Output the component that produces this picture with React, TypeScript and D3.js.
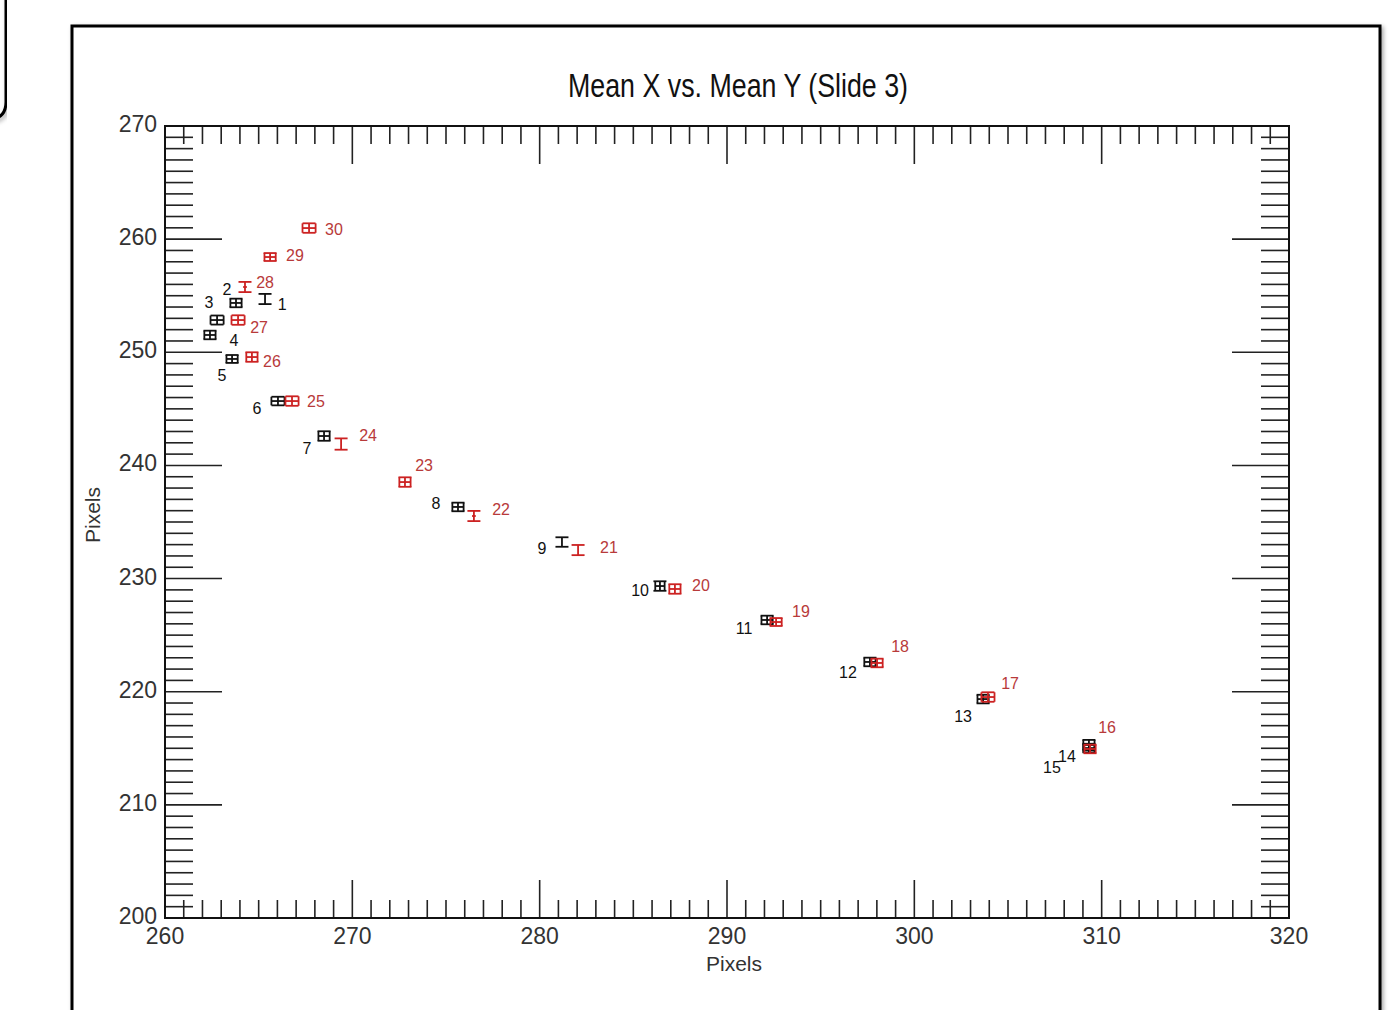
import React from "react";
import * as d3 from "d3";

// ---- Data ----
const blackIds = [1, 2, 3, 4, 5, 6, 7, 8, 9, 10, 11, 12, 13, 14, 15];
const blackX = [265.34, 263.79, 262.78, 262.4, 263.58, 266.03, 268.49, 275.64, 281.19, 286.42, 292.14, 297.63, 303.67, 309.32, 309.32];
const blackY = [254.71, 254.36, 252.85, 251.53, 249.41, 245.69, 242.6, 236.33, 233.23, 229.34, 226.34, 222.63, 219.35, 215.29, 215.02];
const blackXErr = [0, 0.3, 0.35, 0.3, 0.3, 0.35, 0.3, 0.3, 0, 0.25, 0.3, 0.3, 0.3, 0.3, 0.3];
const blackYErr = [0.45, 0.38, 0.4, 0.38, 0.35, 0.38, 0.42, 0.38, 0.42, 0.42, 0.38, 0.38, 0.38, 0.45, 0.38];
const blackLabelX = [266.25, 263.31, 262.35, 263.68, 263.04, 264.91, 267.58, 274.47, 280.12, 285.36, 290.91, 296.46, 302.6, 308.15, 307.35];
const blackLabelY = [254.27, 255.59, 254.44, 251.09, 247.99, 245.08, 241.54, 236.68, 232.7, 228.99, 225.63, 221.74, 217.85, 214.32, 213.35];

const redIds = [16, 17, 18, 19, 20, 21, 22, 23, 24, 25, 26, 27, 28, 29, 30];
const redX = [309.38, 303.93, 298.01, 292.62, 287.22, 282.05, 276.49, 272.81, 269.4, 266.78, 264.64, 263.9, 264.27, 265.61, 267.69];
const redY = [214.94, 219.53, 222.54, 226.16, 229.08, 232.52, 235.53, 238.53, 241.89, 245.69, 249.58, 252.85, 255.77, 258.42, 260.98];
const redXErr = [0.3, 0.35, 0.3, 0.3, 0.3, 0, 0.1, 0.3, 0, 0.35, 0.3, 0.35, 0.1, 0.3, 0.35];
const redYErr = [0.38, 0.42, 0.38, 0.35, 0.42, 0.45, 0.45, 0.42, 0.5, 0.42, 0.42, 0.42, 0.45, 0.35, 0.42];
const redLabelX = [310.29, 305.11, 299.24, 293.95, 288.61, 283.7, 277.94, 273.83, 270.84, 268.06, 265.71, 265.02, 265.34, 266.94, 269.02];
const redLabelY = [216.88, 220.77, 224.04, 227.13, 229.43, 232.79, 236.15, 240.04, 242.69, 245.69, 249.23, 252.23, 256.21, 258.6, 260.9];

const xMajorTicks = [260, 270, 280, 290, 300, 310, 320];
const yMajorTicks = [200, 210, 220, 230, 240, 250, 260, 270];

const title = "Mean X vs. Mean Y (Slide 3)";
const xTitle = "Pixels";
const yTitle = "Pixels";

// ---- Layout ----
const W = 1394;
const H = 1010;
const L = 165, R = 1289, T = 126, B = 918;
const FONT = "'Liberation Sans Narrow', 'Liberation Sans', Arial, sans-serif";
const RED = "#cc2222";
const RED_LABEL = "#b83a3a";

type Pt = { id: number; x: number; y: number; ex: number; ey: number; lx: number; ly: number };

function build(ids: number[], xs: number[], ys: number[], exs: number[], eys: number[], lxs: number[], lys: number[]): Pt[] {
  return ids.map((id, i) => ({ id, x: xs[i], y: ys[i], ex: exs[i], ey: eys[i], lx: lxs[i], ly: lys[i] }));
}

const blackPts = build(blackIds, blackX, blackY, blackXErr, blackYErr, blackLabelX, blackLabelY);
const redPts = build(redIds, redX, redY, redXErr, redYErr, redLabelX, redLabelY);

export default function App() {
  const x = d3.scaleLinear().domain([260, 320]).range([L, R]);
  const y = d3.scaleLinear().domain([200, 270]).range([B, T]);
  const xMinor = d3.range(260, 321, 1);
  const yMinor = d3.range(200, 271, 1);

  const marker = (p: Pt, color: string, key: string) => {
    const cx = x(p.x);
    const cy = y(p.y);
    const y0 = y(p.y + p.ey);
    const y1 = y(p.y - p.ey);
    const cap = 6.5;
    const els: React.ReactNode[] = [
      <line key="v" x1={cx} x2={cx} y1={y0} y2={y1} />,
      <line key="t" x1={cx - cap} x2={cx + cap} y1={y0} y2={y0} />,
      <line key="b" x1={cx - cap} x2={cx + cap} y1={y1} y2={y1} />,
    ];
    if (p.ex > 0) {
      const x0 = x(p.x - p.ex);
      const x1 = x(p.x + p.ex);
      els.push(<line key="h" x1={x0} x2={x1} y1={cy} y2={cy} />);
      if (p.ex >= 0.2) {
        els.push(<line key="l" x1={x0} x2={x0} y1={y0} y2={y1} />);
        els.push(<line key="r" x1={x1} x2={x1} y1={y0} y2={y1} />);
      }
    }
    return (
      <g key={key} stroke={color} strokeWidth={1.8}>
        {els}
      </g>
    );
  };

  return (
    <svg width={W} height={H} style={{ position: "absolute", left: 0, top: 0, display: "block", background: "#fff" }}>
      <defs>
        <filter id="sh" x="-5%" y="-5%" width="110%" height="110%">
          <feDropShadow dx="2" dy="2" stdDeviation="2" floodColor="#000" floodOpacity="0.35" />
        </filter>
      </defs>
      {/* corner of neighbouring box */}
      <path d="M6,-10 L6,102 Q6,118 -10,120" fill="none" stroke="#000" strokeWidth={3} filter="url(#sh)" />
      {/* outer frame */}
      <rect x={72} y={26} width={1308} height={1010} fill="#fff" stroke="#000" strokeWidth={3} filter="url(#sh)" />

      {/* title */}
      <text x={738} y={97} textAnchor="middle" fontFamily={FONT} fontSize={33} fill="#111" textLength={340} lengthAdjust="spacingAndGlyphs">
        {title}
      </text>

      {/* ticks */}
      <g stroke="#222" strokeWidth={1.6}>
        {xMinor.map((v) => {
          const major = v % 10 === 0;
          const len = major ? 38 : 18;
          return (
            <g key={"xt" + v}>
              <line x1={x(v)} x2={x(v)} y1={B} y2={B - len} />
              <line x1={x(v)} x2={x(v)} y1={T} y2={T + len} />
            </g>
          );
        })}
        {yMinor.map((v) => {
          const major = v % 10 === 0;
          const len = major ? 57 : 28;
          return (
            <g key={"yt" + v}>
              <line x1={L} x2={L + len} y1={y(v)} y2={y(v)} />
              <line x1={R} x2={R - len} y1={y(v)} y2={y(v)} />
            </g>
          );
        })}
      </g>
      {/* plot box */}
      <rect x={L} y={T} width={R - L} height={B - T} fill="none" stroke="#111" strokeWidth={2} />

      {/* tick labels */}
      <g fontFamily={FONT} fontSize={23} fill="#333">
        {xMajorTicks.map((v) => (
          <text key={"xl" + v} x={x(v)} y={B + 26} textAnchor="middle">
            {v}
          </text>
        ))}
        {yMajorTicks.map((v) => (
          <text key={"yl" + v} x={L - 8} y={y(v) + 6} textAnchor="end">
            {v}
          </text>
        ))}
      </g>

      {/* axis titles */}
      <text x={734} y={971} textAnchor="middle" fontFamily={FONT} fontSize={21} fill="#333">
        {xTitle}
      </text>
      <text transform={`translate(100,515) rotate(-90)`} textAnchor="middle" fontFamily={FONT} fontSize={21} fill="#333">
        {yTitle}
      </text>

      {/* markers */}
      {blackPts.map((p) => marker(p, "#111", "bm" + p.id))}
      {redPts.map((p) => marker(p, RED, "rm" + p.id))}

      {/* labels */}
      <g fontFamily={FONT} fontSize={16}>
        {blackPts.map((p) => (
          <text key={"bl" + p.id} x={x(p.lx)} y={y(p.ly)} dy="0.35em" textAnchor="middle" fill="#111">
            {p.id}
          </text>
        ))}
        {redPts.map((p) => (
          <text key={"rl" + p.id} x={x(p.lx)} y={y(p.ly)} dy="0.35em" textAnchor="middle" fill={RED_LABEL}>
            {p.id}
          </text>
        ))}
      </g>
    </svg>
  );
}
